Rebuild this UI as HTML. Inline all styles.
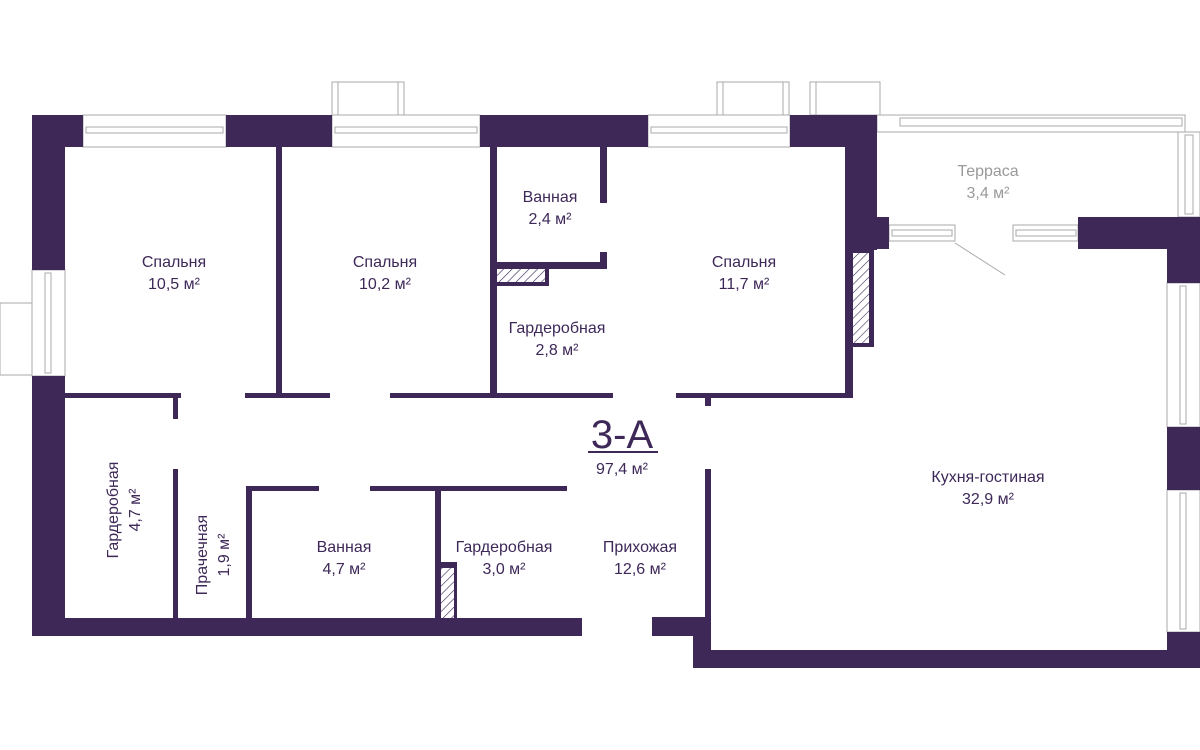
<!DOCTYPE html>
<html><head><meta charset="utf-8"><style>
html,body{margin:0;padding:0;background:#fff;}
svg{display:block}
text{font-family:"Liberation Sans","DejaVu Sans",sans-serif;fill:#3d2858;font-size:16px;text-anchor:middle}
</style></head><body>
<svg width="1200" height="750" viewBox="0 0 1200 750" xmlns="http://www.w3.org/2000/svg">
<defs>
<pattern id="h" width="6" height="6" patternUnits="userSpaceOnUse" patternTransform="rotate(45)">
<line x1="0" y1="0" x2="0" y2="6" stroke="#3d2858" stroke-width="1.2"/>
</pattern>
</defs>
<!-- windows & outside boxes (gray) -->
<g fill="none" stroke="#aaa" stroke-width="1">
<rect x="332" y="82" width="72" height="33"/><line x1="338" y1="82" x2="338" y2="115"/><line x1="398" y1="82" x2="398" y2="115"/>
<rect x="717" y="82" width="72" height="33"/><line x1="723" y1="82" x2="723" y2="115"/><line x1="783" y1="82" x2="783" y2="115"/>
<rect x="810" y="82" width="70" height="33"/><line x1="816" y1="82" x2="816" y2="115"/>
<rect x="0" y="303" width="32" height="72"/>
<rect x="83" y="115" width="143" height="32"/><rect x="86" y="127" width="137" height="6"/>
<rect x="332" y="115" width="148" height="32"/><rect x="335" y="127" width="142" height="6"/>
<rect x="648" y="115" width="142" height="32"/><rect x="651" y="127" width="136" height="6"/>
<rect x="32" y="270" width="33" height="106"/><rect x="45" y="273" width="6" height="100"/>
<rect x="877" y="115" width="308" height="17"/><rect x="900" y="118" width="282" height="8"/>
<rect x="1178" y="132" width="22" height="85"/><rect x="1185" y="135" width="8" height="79"/>
<rect x="889" y="225" width="66" height="16"/><rect x="892" y="230" width="60" height="6"/>
<rect x="1013" y="225" width="65" height="16"/><rect x="1016" y="230" width="60" height="6"/>
<rect x="1167" y="283" width="33" height="144"/><rect x="1180" y="286" width="6" height="138"/>
<rect x="1167" y="490" width="33" height="142"/><rect x="1180" y="493" width="6" height="136"/>
<line x1="955" y1="243" x2="1005" y2="275"/>
</g>
<!-- walls -->
<g fill="#3d2858">
<rect x="32" y="115" width="51" height="32"/>
<rect x="32" y="115" width="33" height="155"/>
<rect x="32" y="376" width="33" height="260"/>
<rect x="226" y="115" width="106" height="32"/>
<rect x="480" y="115" width="168" height="32"/>
<rect x="790" y="115" width="87" height="32"/>
<rect x="845" y="115" width="32" height="135"/>
<rect x="845" y="217" width="44" height="32"/>
<rect x="845" y="249" width="29" height="98"/>
<rect x="845" y="249" width="8" height="149"/>
<rect x="1078" y="217" width="122" height="32"/>
<rect x="1167" y="217" width="33" height="66"/>
<rect x="1167" y="427" width="33" height="63"/>
<rect x="1167" y="632" width="33" height="36"/>
<rect x="693" y="650" width="507" height="18"/>
<rect x="693" y="617" width="17" height="51"/>
<rect x="652" y="617" width="58" height="19"/>
<rect x="705" y="469" width="6" height="190"/>
<rect x="705" y="397" width="6" height="9"/>
<rect x="32" y="618" width="550" height="18"/>
<!-- partitions -->
<rect x="276" y="147" width="6" height="246"/>
<rect x="490" y="147" width="7" height="246"/>
<rect x="600" y="147" width="7" height="56"/>
<rect x="600" y="252" width="7" height="16"/>
<rect x="497" y="262" width="110" height="7"/>
<rect x="65" y="393" width="116" height="5"/>
<rect x="245" y="393" width="85" height="5"/>
<rect x="390" y="393" width="223" height="5"/>
<rect x="676" y="393" width="177" height="5"/>
<rect x="173" y="398" width="5" height="21"/>
<rect x="173" y="469" width="5" height="150"/>
<rect x="246" y="486" width="73" height="5"/>
<rect x="370" y="486" width="197" height="5"/>
<rect x="246" y="486" width="6" height="133"/>
<rect x="435" y="486" width="6" height="133"/>
<rect x="435" y="562" width="22" height="57"/>
<rect x="490" y="262" width="59" height="24"/>
</g>
<rect x="853" y="253" width="16" height="90" fill="#fff"/>
<rect x="853" y="253" width="16" height="90" fill="url(#h)"/>
<rect x="441" y="568" width="13" height="50" fill="#fff"/>
<rect x="441" y="568" width="13" height="50" fill="url(#h)"/>
<rect x="497" y="269" width="48" height="13" fill="#fff"/>
<rect x="497" y="269" width="48" height="13" fill="url(#h)"/>
<!-- labels -->
<text x="174" y="267">Спальня</text><text x="174" y="289">10,5 м²</text>
<text x="385" y="267">Спальня</text><text x="385" y="289">10,2 м²</text>
<text x="550" y="202">Ванная</text><text x="550" y="224">2,4 м²</text>
<text x="744" y="267">Спальня</text><text x="744" y="289">11,7 м²</text>
<text x="557" y="333">Гардеробная</text><text x="557" y="355">2,8 м²</text>
<text x="988" y="176" style="fill:#999">Терраса</text><text x="988" y="198" style="fill:#999">3,4 м²</text>
<text x="622" y="448" style="font-size:40px">3-А</text>
<rect x="588" y="451" width="70" height="2" fill="#3d2858"/>
<text x="622" y="474">97,4 м²</text>
<text x="988" y="482">Кухня-гостиная</text><text x="988" y="504">32,9 м²</text>
<text x="344" y="552">Ванная</text><text x="344" y="574">4,7 м²</text>
<text x="504" y="552">Гардеробная</text><text x="504" y="574">3,0 м²</text>
<text x="640" y="552">Прихожая</text><text x="640" y="574">12,6 м²</text>
<text transform="translate(118,510) rotate(-90)">Гардеробная</text>
<text transform="translate(140,510) rotate(-90)">4,7 м²</text>
<text transform="translate(207,555) rotate(-90)">Прачечная</text>
<text transform="translate(229,555) rotate(-90)">1,9 м²</text>
</svg>
</body></html>
